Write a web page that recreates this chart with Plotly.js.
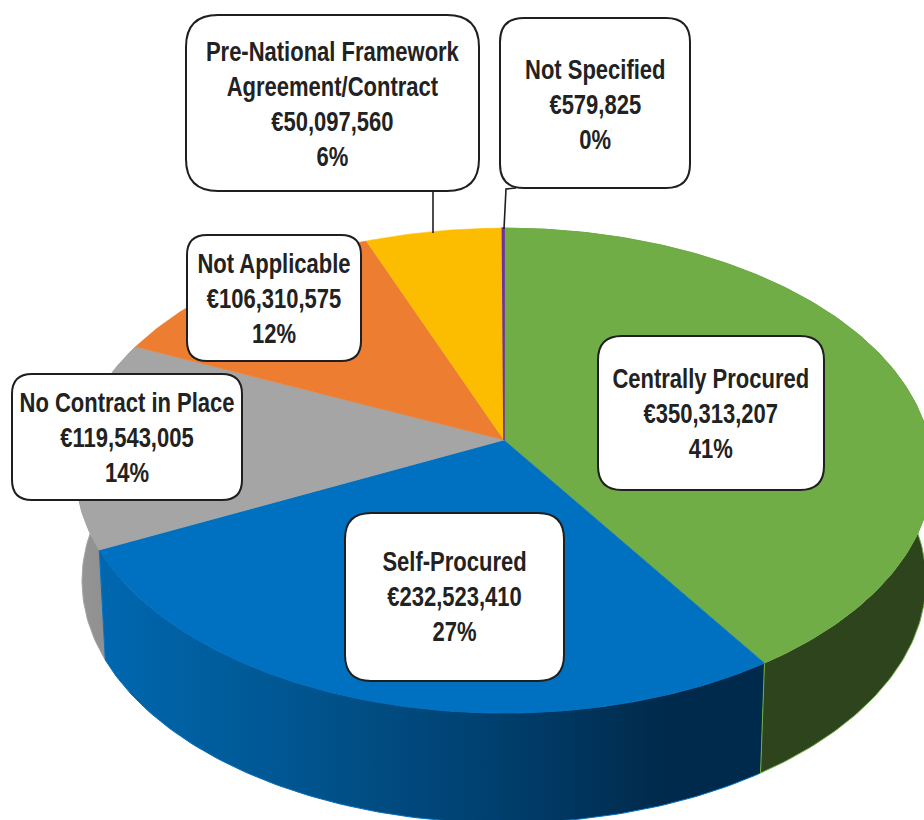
<!DOCTYPE html>
<html><head><meta charset="utf-8">
<script src="https://cdn.plot.ly/plotly-3.0.1.min.js"></script>
<style>html,body{margin:0;padding:0;background:#fff}</style></head>
<body><div id="chart" style="width:924px;height:820px"></div>
<script>
const categories = ["Centrally Procured","Self-Procured","No Contract in Place","Not Applicable","Pre-National Framework<br>Agreement/Contract","Not Specified"];
const amounts = [350313207,232523410,119543005,106310575,50097560,579825];
const colors = ["#70AD47","#0070C0","#A5A5A5","#ED7D31","#FCBD00","#7030A0"];

// Projection of the pie disc
const CX=504, CY=440, RX=425, RY=238.6, K=0.126, DEPTH=110, WALL_SCALE=0.985;
const total = amounts.reduce((a,b)=>a+b,0);
function rim(frac){
  const th = frac*2*Math.PI, s=Math.cos(th), c=Math.sin(th), d=1+K*s;
  return [CX+RX*c/d, CY-RY*s/d];
}
function arc(f0,f1){
  const n=Math.max(2,Math.ceil((f1-f0)*400)), pts=[];
  for(let i=0;i<=n;i++) pts.push(rim(f0+(f1-f0)*i/n));
  return pts;
}
let cum=0; const spans=amounts.map(v=>{const s=[cum/total,(cum+v)/total];cum+=v;return s;});

const wallStyle = [
  {fillcolor:"#2E441C"},
  {fillgradient:{type:"horizontal",colorscale:[[0,"#0068B0"],[0.3,"#00558F"],[0.6,"#003F6E"],[0.85,"#002A4B"],[1,"#002A4B"]]}},
  {fillgradient:{type:"horizontal",colorscale:[[0,"#959595"],[1,"#8A8A8A"]]}}
];
const traces=[];
[2,1,0].forEach(i=>{
  const top=arc(spans[i][0],spans[i][1]);
  const bot=top.slice().reverse().map(p=>[CX+(p[0]-CX)*WALL_SCALE,p[1]+DEPTH]);
  const poly=top.concat(bot);
  traces.push(Object.assign({type:"scatter",mode:"lines",fill:"toself",hoverinfo:"skip",
    x:poly.map(p=>p[0]),y:poly.map(p=>p[1]),line:{color:colors[i],width:1}},wallStyle[i]));
});
amounts.forEach((v,i)=>{
  const a=arc(spans[i][0],spans[i][1]);
  const poly=[[CX,CY]].concat(a,[[CX,CY]]);
  traces.push({type:"scatter",mode:"lines",fill:"toself",hoverinfo:"skip",
    x:poly.map(p=>p[0]),y:poly.map(p=>p[1]),fillcolor:colors[i],
    line:{color:colors[i],width:i===5?1.6:0.5}});
});

// Callouts: [x0,y0,x1,y1,radius,text centre y]
const boxes=[
  [598,336,824,490,24,414],
  [345,513,564,681,26,597],
  [12,374,242,500,20,438],
  [187,235,361,361,20,299],
  [186,15,479,191,32,104.5],
  [500,18,690,188,24,105]
];
function roundRect(b){
  const [x0,y0,x1,y1,r]=b;
  return `M${x0+r},${y0} L${x1-r},${y0} Q${x1},${y0} ${x1},${y0+r} L${x1},${y1-r} Q${x1},${y1} ${x1-r},${y1} L${x0+r},${y1} Q${x0},${y1} ${x0},${y1-r} L${x0},${y0+r} Q${x0},${y0} ${x0+r},${y0} Z`;
}
const shapes=boxes.map(b=>({type:"path",path:roundRect(b),xref:"x",yref:"y",layer:"above",
  fillcolor:"#fff",line:{color:"#1f1f1f",width:2}}));
shapes.push({type:"path",path:"M433,191 L433,233",xref:"x",yref:"y",layer:"above",line:{color:"#1f1f1f",width:1.6}});
shapes.push({type:"path",path:"M516,188 L506,189 L504,229",xref:"x",yref:"y",layer:"above",line:{color:"#1f1f1f",width:1.6}});

const annotations=amounts.map((v,i)=>{
  const b=boxes[i];
  return {xref:"x",yref:"y",x:(b[0]+b[2])/2,y:b[5],xanchor:"center",yanchor:"middle",showarrow:false,align:"center",
    text:"<b>"+categories[i]+"<br>€"+v.toLocaleString("en-US")+"<br>"+Math.round(v/total*100)+"%</b>",
    font:{family:"'Liberation Sans',sans-serif",size:27,color:"#222"}};
});

Plotly.newPlot("chart",traces,{
  width:924,height:820,margin:{l:0,r:0,t:0,b:0},showlegend:false,
  paper_bgcolor:"#fff",plot_bgcolor:"#fff",
  xaxis:{range:[0,924],visible:false,fixedrange:true},
  yaxis:{range:[820,0],visible:false,fixedrange:true},
  shapes,annotations
},{displayModeBar:false,staticPlot:true}).then(gd=>{
  // Condense the label glyphs to match the narrow face of the original
  gd.querySelectorAll(".annotation-text").forEach(t=>{
    const bb=t.getBBox(); const c=bb.x+bb.width/2;
    t.setAttribute("transform",`translate(${c},0) scale(0.815,1) translate(${-c},0)`);
  });
});
</script></body></html>
